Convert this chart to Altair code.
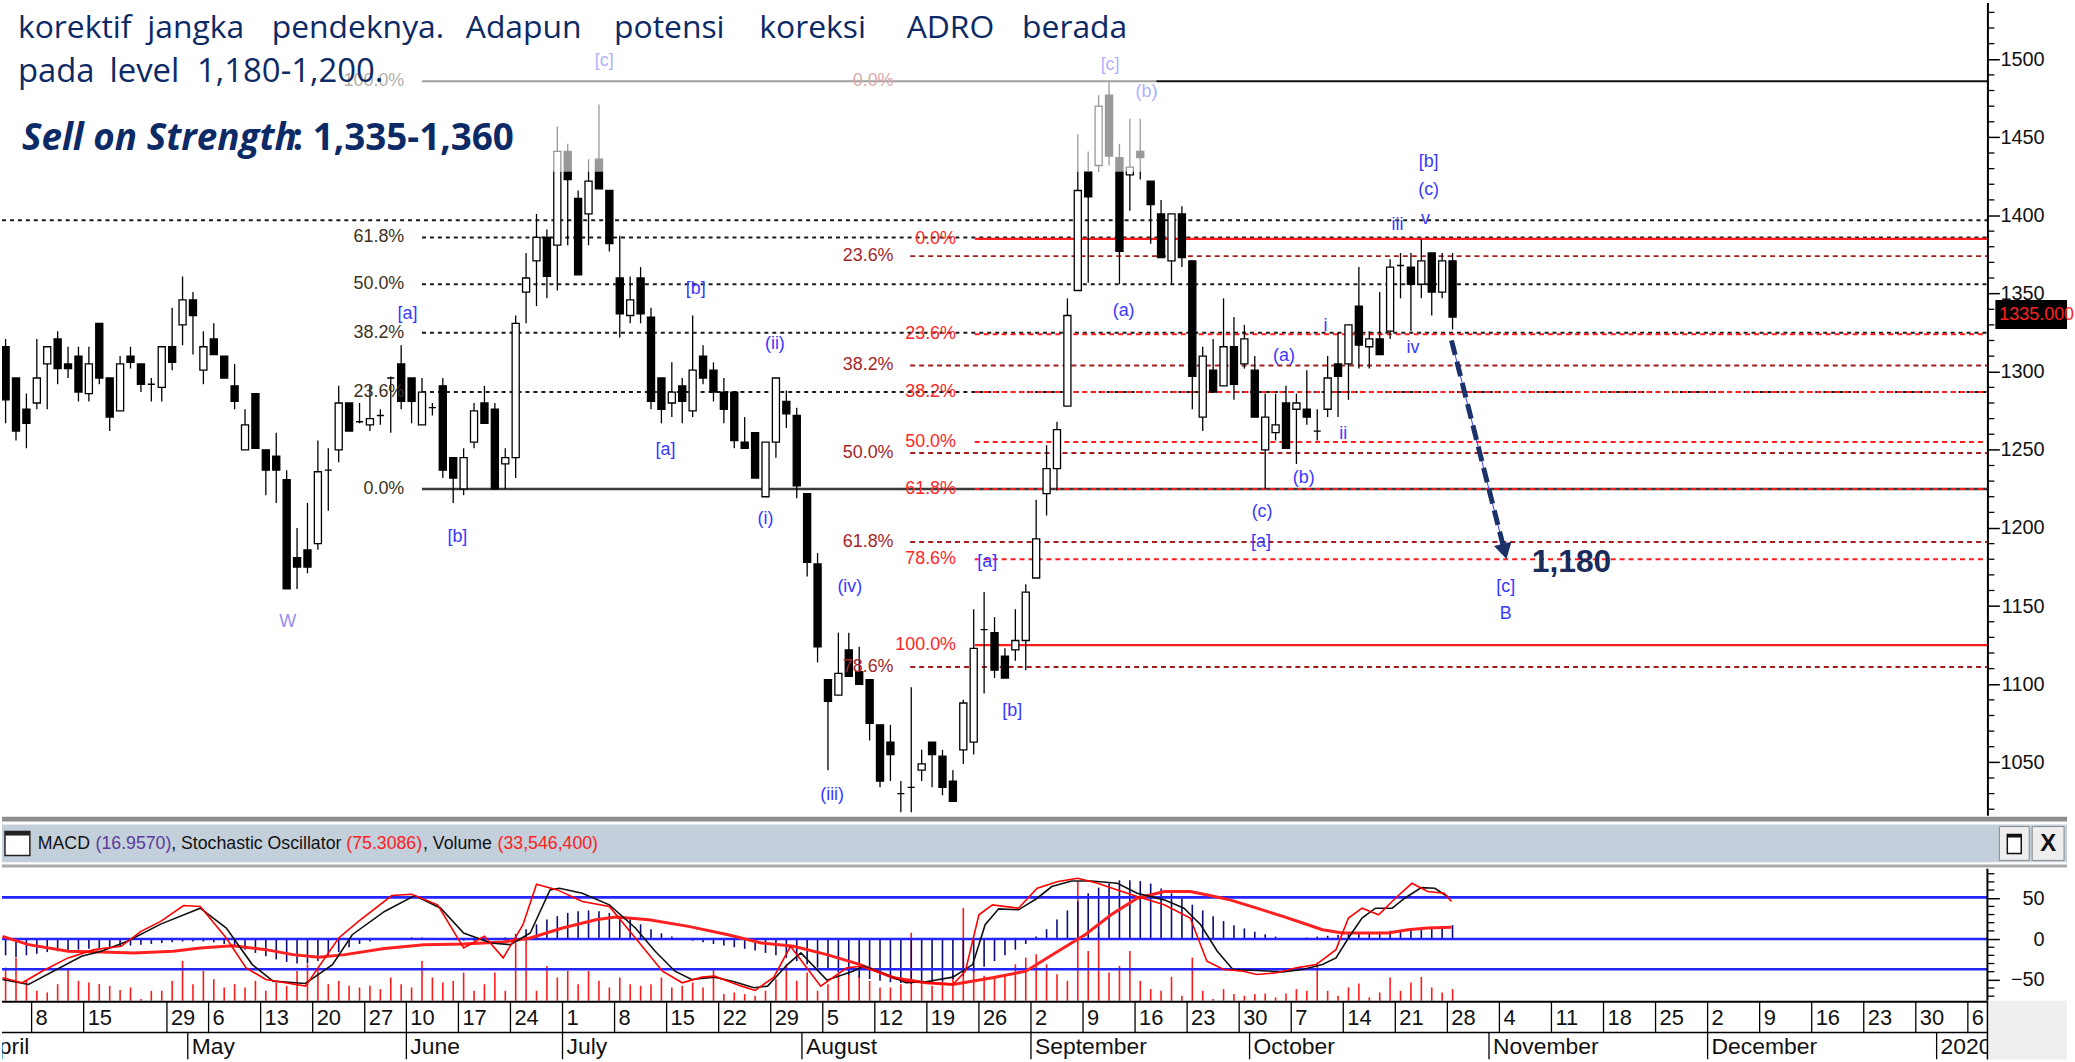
import altair as alt
import pandas as pd

ARIAL = "Liberation Sans, Arial, sans-serif"
SEGOE = "Open Sans, Noto Sans, sans-serif"
NAVY = "#0c2a66"
WAVE = "#3838ff"
WAVE_LIGHT = "#958cf2"
RED = "#ff2626"
DRED = "#a3262b"
FIBLBL = "#3d3222"

# ---------------- candles: trading-day index -3 .. 136 ----------------
FIRST_DAY = -3
opens = [1316,1296,1276,1280,1305,1321,1305,1310,1286,1331,1296,1275,1310,1305,1292,1290,1316,1330,1346,1301,1321,1310,1291,1250,1286,1250,1246,1231,1181,1186,1190,1237,1250,1280,1268,1266,
         1272,1296,1305,1296,1266,1277,1291,1245,1225,1255,1280,1276,1241,1245,1351,1371,1386,1381,1441,1411,1401,1436,1416,1360,1336,1360,1335,1296,1280,1291,1275,1310,1301,1287,1287,1255,1261,1220,1255,
         1281,1272,1222,1177,1103,1093,1122,1108,1103,1074,1063,1030,1034,1045,1063,1054,1038,1058,1063,1135,1133,1118,1122,1128,1168,1222,1238,1278,1352,1428,1432,1477,
         1437,1426,1441,1422,1401,1371,1401,1371,1271,1301,1291,1316,1305,1301,1250,1261,1280,1276,1276,1262,1276,1305,1305,1342,1316,1321,1326,1368,1367,1356,1376,1351,1371]
highs = [1321,1296,1286,1321,1316,1326,1316,1316,1316,1331,1296,1310,1316,1305,1296,1316,1341,1361,1351,1326,1331,1310,1305,1276,1286,1250,1261,1237,1200,1216,1256,1251,1291,1280,1280,1291,
         1276,1297,1317,1296,1296,1280,1296,1245,1251,1280,1291,1280,1251,1336,1376,1401,1391,1457,1446,1416,1436,1471,1416,1387,1361,1367,1341,1296,1306,1296,1336,1317,1306,1296,1287,1271,1261,1255,1296,
         1288,1277,1222,1184,1103,1133,1133,1124,1103,1074,1074,1038,1098,1058,1063,1058,1045,1090,1148,1159,1143,1123,1148,1164,1218,1253,1268,1347,1452,1441,1477,1486,
         1446,1462,1462,1422,1410,1401,1406,1371,1316,1321,1347,1335,1330,1310,1286,1286,1291,1286,1301,1276,1310,1325,1330,1367,1326,1351,1372,1376,1376,1385,1376,1376,1376]
lows = [1267,1256,1251,1276,1276,1292,1296,1281,1281,1292,1262,1275,1302,1287,1281,1281,1301,1317,1311,1292,1311,1296,1276,1250,1251,1221,1216,1161,1161,1171,1186,1211,1242,1262,1267,1262,
        1266,1261,1276,1267,1266,1272,1232,1216,1221,1251,1267,1225,1225,1232,1331,1342,1347,1352,1381,1362,1381,1417,1377,1322,1331,1331,1276,1267,1271,1267,1271,1292,1281,1267,1251,1251,1232,1220,1245,
        1264,1219,1169,1114,1045,1093,1105,1100,1064,1034,1038,1018,1018,1038,1034,1029,1025,1049,1055,1094,1104,1104,1115,1109,1168,1208,1224,1278,1352,1357,1428,1432,
        1356,1403,1423,1382,1373,1356,1367,1276,1262,1287,1291,1282,1302,1271,1225,1256,1251,1241,1266,1256,1271,1271,1282,1302,1302,1311,1321,1347,1326,1347,1336,1347,1327]
closes = [1282,1262,1267,1296,1316,1302,1302,1287,1305,1296,1271,1305,1306,1292,1292,1316,1306,1346,1336,1316,1311,1296,1281,1266,1251,1237,1237,1161,1175,1175,1236,1237,1280,1262,1268,1270,
          1272,1296,1281,1281,1287,1277,1237,1232,1245,1275,1267,1225,1245,1331,1360,1386,1361,1441,1423,1362,1422,1417,1382,1337,1346,1337,1281,1276,1287,1281,1301,1296,1287,1276,1256,1251,1232,1255,1296,
          1273,1227,1178,1124,1089,1107,1105,1100,1075,1038,1055,1030,1034,1049,1055,1034,1025,1088,1123,1135,1109,1104,1128,1159,1193,1238,1263,1336,1416,1412,1470,1438,
          1377,1431,1437,1407,1373,1401,1373,1297,1310,1287,1316,1292,1321,1271,1271,1266,1251,1280,1271,1262,1296,1297,1330,1317,1321,1311,1367,1368,1356,1371,1351,1371,1335]

# ---------------- lower panel series ----------------
macd_hist = [-20,-22,-20,-18,
             -16,-15,-14,-13,-12, -11,-10,-9,-8,-7, -6,-5,-4,-3,-3, -3,-4,-6,-9,-13,
             -17,-21,-25,-28,-30, -30,-27,-22,-16,-10, -6,-3,-1,0,1, 2,2,1,0,-1,
             -2,-2,-1,0,2, 6,12,18,24,28, 32,34,35,34,32, 28,24,18,12,7,
             3,0,-2,-4,-6, -8,-10,-12,-14,-17, -20,-23,-27,-31,-35, -38,-41,-44,-47,-49,
             -51,-53,-54,-55,-55, -54,-52,-49,-45,-40, -34,-27,-20,-13,-6, 3,12,24,35,46,
             56,63,68,72,72, 71,68,62,56,50, 42,35,28,22,17, 13,9,6,3,1,
             1,2,3,4,5, 6,7,8,9,10, 11,12,14,15,16,17]
volume_m = [100,130,60,30,
            25,50,95,60,55, 50,45,32,40,5, 30,30,60,120,50, 90,65,40,50,40,
            60,30,55,45,90, 110,95,50,60,45, 40,45,35,70,50, 40,120,70,55,60,
            85,30,50,85,30, 175,185,30,105,70, 90,50,90,60,40, 70,50,45,50,70,
            40,45,55,40,95, 20,25,20,15,30, 65,110,60,85,30, 50,80,80,75,60,
            40,40,50,205,50, 45,60,80,280,90, 75,70,80,110,130, 140,110,80,60,360,
            150,205,85,105,150, 60,35,30,72,15, 130,30,5,35,20, 15,20,22,10,22,
            35,30,115,30,15, 40,52,10,25,70, 30,55,72,40,25,35]
stoch_slow = [(-3.3,-49.6),(-0.8,-55.7),(4.3,-21.1),(6.2,-15),(8.7,-2.8),(11.9,18.3),(15.7,37.8),(18.2,13.5),
              (20.7,-31.3),(22.7,-51.6),(25.8,-54.4),(28.4,-31.3),(30.3,5.3),(33.4,33.8),(36.3,53.3),(38.8,37.8),
              (41.0,7.4),(43.6,-4.8),(45.5,-6.9),(47.4,7.4),(49.3,60.2),(50.2,62.2),(52.4,56.1),(55.0,41.9),
              (57.5,13.5),(59.4,-15),(61.3,-39.4),(62.9,-49.6),(65.1,-46.7),(67.0,-52.4),(68.9,-59.7),(70.2,-57.7),
              (72.1,-31.3),(73.4,-17),(75.9,-50.4),(78.4,-39.4),(79.4,-33.3),(81.6,-43.5),(83.5,-53.6),(85.4,-52.4),
              (88.0,-46.7),(89.9,-31.3),(91.1,17.5),(92.4,37),(94.3,35.8),(96.1,50),(97.5,64.3),(99.4,71.2),
              (101.3,71.2),(103.8,68.3),(105.7,56.1),(108.3,48),(110.2,37.8),(111.8,17.5),(113.4,-15),(114.9,-37.4),
              (117.2,-38.6),(119.7,-40.2),(121.6,-37.4),(123.5,-31.3),(124.8,-23.1),(126.0,1.3),(127.3,25.7),
              (128.6,37.8),(130.2,37.8),(131.4,50),(133.0,63),(134.3,62.2),(135.5,52.1)]
stoch_fast = [(-3.3,-47.5),(-1.4,-53.6),(0.5,-39.4),(3,-23.1),(5.5,-13),(8.1,-8.9),(10,9.4),(11.9,21.6),(14.1,41.1),
              (15.7,39.9),(18.2,1.3),(20.1,-35.3),(22,-49.6),(25.8,-57.7),(29,1.3),(30.9,21.6),(34.1,53.3),(36,54.9),
              (38.5,41.9),(41,-10.9),(43,3.3),(44.8,-23.1),(46.7,17.5),(48,67.1),(50,60.2),(52.4,46),(55,39.9),
              (57.5,1.3),(60.1,-39.4),(62,-53.6),(63.9,-46.7),(65.1,-45.5),(67.7,-57.7),(69,-63),(70.8,-46.7),
              (72.4,-8.9),(75.3,-57.7),(77.8,-35.3),(79.1,-33.3),(81.6,-43.5),(83.5,-51.6),(88,-55.7),(89.2,-39.4),
              (90.5,29.7),(91.8,41.9),(94.3,37.8),(96.1,62.2),(98.1,70.4),(100,74.4),(101.9,68.3),(103.8,60.2),
              (105.7,52.1),(108.3,41.9),(110.8,25.7),(112.4,-27.2),(114,-37.4),(115.9,-39.4),(117.2,-43.5),
              (119.1,-41.4),(121,-35.3),(122.9,-31.3),(124.8,-13),(126,25.7),(127.3,37.8),(128.9,29.7),(130.5,50),
              (132.1,68.3),(133.6,58.2),(135.2,56.1),(135.9,46)]
signal_line = [(-3.3,3.3),(-0.8,-6.9),(3,-15),(6.2,-15.8),(9.3,-17),(13.1,-15),(15.7,-10.9),(18.8,-8.1),(22,-13),
               (24.6,-19.1),(27.1,-22.3),(29.6,-19.1),(33.4,-11.7),(37.2,-6.9),(41,-6.1),(44.8,-3.6),(47.4,1.3),
               (50.5,13.5),(53.7,23.6),(55.6,26.9),(58.8,23.6),(62.6,15.5),(66.4,5.3),(69.6,-4.8),(72.7,-8.9),
               (75.9,-19.1),(79.1,-31.3),(82.3,-47.5),(85.4,-53.6),(88,-55.7),(91.8,-47.5),(95,-39.4),(98.1,-15),
               (100.7,5.3),(103.2,29.7),(105.7,50),(108.3,58.2),(110.8,58.2),(112.7,53.3),(114.6,48),(117.2,37.8),
               (119.7,27.7),(121.6,19.6),(123.5,11.4),(125.4,7.4),(127.3,7.4),(129.8,7.4),(131.7,11.4),(133.6,13.5),
               (135.9,14.3)]
ind_levels = [51, 0, -37]

# ---------------- fibonacci levels / annotations ----------------
fib_black_dotted = [1397, 1386, 1356, 1325, 1287]
fib_black_dotted_from = [-3.346, 37, 37, 37, 37]
fib_black_solid = [1225]
fib_top = 1486
fib_red_solid = [1385, 1125]
fib_red_dashed = [1324, 1287, 1255, 1225, 1180]
fib_dred_dashed = [1374, 1304, 1248, 1191, 1111]

lbl_black_text = ["100.0%", "61.8%", "50.0%", "38.2%", "23.6%", "0.0%"]
lbl_black_lvl = [1486, 1386, 1356, 1325, 1287, 1225]
lbl_dred_text = ["0.0%", "23.6%", "38.2%", "50.0%", "61.8%", "78.6%"]
lbl_dred_lvl = [1486, 1374, 1304, 1248, 1191, 1111]
lbl_red_text = ["0.0%", "23.6%", "38.2%", "50.0%", "61.8%", "78.6%", "100.0%"]
lbl_red_lvl = [1385, 1324, 1287, 1255, 1225, 1180, 1125]

wave_text = ["W", "[a]", "[b]", "[c]", "[b]", "[a]", "(ii)", "(i)", "(iv)", "(iii)", "[a]", "[b]",
             "[c]", "(b)", "(a)", "(a)", "i", "ii", "(b)", "(c)", "[a]", "iii", "v", "(c)", "[b]", "iv", "[c]", "B"]
wave_day = [24.1, 35.6, 40.4, 54.5, 63.3, 60.4, 70.9, 70.0, 78.1, 76.4, 91.3, 93.7,
            103.1, 106.6, 104.4, 119.8, 123.8, 125.5, 121.7, 117.7, 117.6, 130.7, 133.4, 133.7, 133.7, 132.2, 141.1, 141.1]
wave_price = [1140, 1337, 1194, 1499, 1353, 1250, 1318, 1206, 1162, 1029, 1178, 1083,
              1496, 1479, 1339, 1310, 1329, 1260, 1232, 1210, 1191, 1394, 1398, 1416, 1434, 1315, 1162, 1145]
wave_light = [True] + [False] * 27

arrow_day = [135.9, 141.0]
arrow_price = [1320, 1185]
target_text = "1,180"
target_day = 143.6
target_price = 1178
last_close_text = "1335.000"

# ---------------- calendar ----------------
week_text = ["8","15","29","6","13","20","27","10","17","24","1","8","15","22","29","5","12","19","26",
             "2","9","16","23","30","7","14","21","28","4","11","18","25","2","9","16","23","30","6"]
week_day = [0,5,13,17,22,27,32,36,41,46,51,56,61,66,71,76,81,86,91,96,101,106,111,116,121,126,131,136,
            141,146,151,156,161,166,171,176,181,186]
month_text = ["April","May","June","July","August","September","October","November","December","2020"]
month_day = [-5,15,36,51,74,96,117,140,161,183]

# ---------------- layout ----------------
W = 1995
H_PRICE = 817
H_IND = 186
H_DATE = 59
XMIN, XMAX = -3.346, 187.38
xs = alt.Scale(domain=[XMIN, XMAX], nice=False, zero=False)
ps = alt.Scale(domain=[1015.9, 1536.3], nice=False, zero=False)

price_axis = alt.Axis(orient="right", values=list(range(1050, 1501, 50)), format="d", tickSize=12,
                      tickWidth=1.5, tickColor="black", domainColor="black", domainWidth=2, grid=False,
                      title=None, labelFont=ARIAL, labelFontSize=20, labelColor="#111111", labelAlign="right",
                      labelPadding=45, labelOverlap=False, labelFlush=False)


def XQ(f):
    return alt.X(f, type="quantitative", scale=xs, axis=None)


def YP(f):
    return alt.Y(f, type="quantitative", scale=ps, axis=price_axis)


def one():
    return pd.DataFrame({"k": [0]})


def ptext(s, x, y, size, color, font=SEGOE, weight="normal", style="normal", align="left", baseline="alphabetic"):
    return alt.Chart(pd.DataFrame({"t": [s]})).mark_text(
        align=align, baseline=baseline, fontSize=size, font=font, fontWeight=weight,
        fontStyle=style, color=color).encode(text="t:N", x=alt.value(x), y=alt.value(y))


def prect(x, x2, y, y2, fill, stroke=None, sw=0, opacity=1):
    kw = dict(fill=fill, strokeWidth=sw, opacity=opacity)
    if stroke:
        kw["stroke"] = stroke
    return alt.Chart(one()).mark_rect(**kw).encode(
        x=alt.value(x), x2=alt.value(x2), y=alt.value(y), y2=alt.value(y2))


candles = pd.DataFrame({"i": list(range(FIRST_DAY, FIRST_DAY + len(opens))),
                        "o": opens, "h": highs, "l": lows, "c": closes})

wicks = alt.Chart(candles).mark_rule(color="black", strokeWidth=1.3, clip=True).encode(
    x=XQ("i"), y=YP("l"), y2="h:Q")
bodies = alt.Chart(candles).transform_calculate(
    x1="datum.i - 0.34", x2="datum.i + 0.34",
    lo="min(datum.o, datum.c)", hi="max(datum.o, datum.c)"
).mark_rect(stroke="black", strokeWidth=1.3, clip=True).encode(
    x=XQ("x1"), x2="x2:Q", y=YP("lo"), y2="hi:Q",
    fill=alt.condition("datum.c >= datum.o", alt.value("white"), alt.value("black")))


def hlines(levels, start, end, color, width, dash=None):
    df = pd.DataFrame({"v": levels, "a": start, "b": [end] * len(levels)})
    kw = dict(color=color, strokeWidth=width, clip=True)
    if dash:
        kw["strokeDash"] = dash
    return alt.Chart(df).mark_rule(**kw).encode(x=XQ("a"), x2="b:Q", y=YP("v"))


lines = [
    hlines(fib_black_dotted, fib_black_dotted_from, XMAX, "#1a1a1a", 2, [4, 4]),
    hlines(fib_black_solid, [37], XMAX, "#3a3a3a", 2.5),
    hlines([fib_top], [37], XMAX, "#111111", 2),
    hlines(fib_dred_dashed, [83.9] * 5, XMAX, "#a51c1c", 2, [5, 4]),
    hlines(fib_red_dashed, [90.1] * 5, XMAX, "#ff1c1c", 2, [5, 4]),
    hlines(fib_red_solid, [90.1] * 2, XMAX, "#ff1c1c", 2.2),
]


def fib_labels(texts, levels, day, color):
    df = pd.DataFrame({"t": texts, "v": levels, "i": [day] * len(texts)})
    return alt.Chart(df).mark_text(align="right", baseline="middle", font=ARIAL, fontSize=18, color=color).encode(
        x=XQ("i"), y=YP("v"), text="t:N")


labels = [
    fib_labels(lbl_black_text, lbl_black_lvl, 35.3, FIBLBL),
    fib_labels(lbl_dred_text, lbl_dred_lvl, 82.3, DRED),
    fib_labels(lbl_red_text, lbl_red_lvl, 88.3, RED),
]

waves_df = pd.DataFrame({"t": wave_text, "i": wave_day, "v": wave_price,
                         "col": [WAVE_LIGHT if w else WAVE for w in wave_light]})
waves = alt.Chart(waves_df).mark_text(align="center", baseline="middle", font=ARIAL, fontSize=18).encode(
    x=XQ("i"), y=YP("v"), text="t:N", color=alt.Color("col:N", scale=None))

arrow_df = pd.DataFrame({"i": arrow_day, "v": arrow_price})
arrow_thin = alt.Chart(arrow_df).mark_line(color="#3b3bff", strokeWidth=1).encode(x=XQ("i"), y=YP("v"))
arrow = alt.Chart(arrow_df).mark_line(color="#1b3268", strokeWidth=5, strokeDash=[15, 7]).encode(
    x=XQ("i"), y=YP("v"))
arrow_head = alt.Chart(arrow_df.tail(1)).mark_point(shape="triangle-down", filled=True, size=330, angle=346,
                                                    color="#1b3268", opacity=1).encode(x=XQ("i"), y=YP("v"))
target = alt.Chart(pd.DataFrame({"t": [target_text], "i": [target_day], "v": [target_price]})).mark_text(
    align="left", baseline="middle", font=ARIAL, fontSize=32, fontWeight="bold", color="#1b2b5c").encode(
    x=XQ("i"), y=YP("v"), text="t:N")

minor_price = pd.DataFrame({"v": [v for v in range(1020, 1536, 10) if v % 50 != 0]})
minor_ticks = alt.Chart(minor_price).mark_rule(color="black", strokeWidth=1.3).encode(
    x=alt.value(W), x2=alt.value(W + 7), y=YP("v"))

# semi-transparent text box of the slide, covering the top-left part of the chart
text_box = prect(0, 1160, 0, 170, "white", opacity=0.6)

head_words = [("korektif", 16, 36, 32), ("jangka", 146, 36, 32), ("pendeknya.", 271, 36, 32),
              ("Adapun", 466, 36, 32), ("potensi", 615, 36, 32), ("koreksi", 761, 36, 32),
              ("ADRO", 909, 36, 32), ("berada", 1025, 36, 32),
              ("pada", 16, 80, 33), ("level", 108, 80, 33), ("1,180-1,200.", 196, 80, 33)]
headline = [ptext(w, x, y, s, NAVY) for w, x, y, s in head_words]
headline.append(ptext("Sell on Strength", 20, 148, 37, NAVY, weight="bold", style="italic"))
headline.append(ptext(": 1,335-1,360", 292, 148, 37, NAVY, weight="bold"))

tag = [prect(2003, 2075, 299, 328, "black"),
       ptext(last_close_text, 2007, 314, 18, "#ff2020", font=ARIAL, align="left", baseline="middle")]

price = alt.layer(*lines, wicks, bodies, *labels, waves, arrow_thin, arrow, arrow_head, target,
                  minor_ticks, text_box, *headline, *tag).properties(width=W, height=H_PRICE)

# ---------------- indicator panel ----------------
iscale = alt.Scale(domain=[-75.6, 151.2], nice=False, zero=False)
vscale = alt.Scale(domain=[0, 558], nice=False, zero=False)
ind_axis = alt.Axis(orient="right", values=[-50, 0, 50], tickSize=12, tickWidth=1.5, tickColor="black",
                    domain=False, grid=False, title=None, labelFont=ARIAL, labelFontSize=20,
                    labelColor="#111111", labelAlign="right", labelPadding=45, labelOverlap=False)

bars_df = pd.DataFrame({"i": list(range(FIRST_DAY, FIRST_DAY + len(macd_hist))), "m": macd_hist, "vol": volume_m})
vol_layer = alt.Chart(bars_df).mark_rule(color="#ff1a1a", strokeWidth=1.6).encode(
    x=XQ("i"), y=alt.Y("vol:Q", scale=vscale, axis=None), y2=alt.datum(0))
hist_layer = alt.Chart(bars_df).mark_rule(color="#0a0a78", strokeWidth=1.6).encode(
    x=XQ("i"), y=alt.Y("m:Q", scale=iscale, axis=None), y2=alt.datum(0))
lvl_layer = alt.Chart(pd.DataFrame({"v": ind_levels})).mark_rule(color="#2424ff", strokeWidth=2.6).encode(
    x=alt.value(0), x2=alt.value(W), y=alt.Y("v:Q", scale=iscale, axis=ind_axis))


def series(pairs, color, width):
    df = pd.DataFrame(pairs, columns=["i", "v"])
    return alt.Chart(df).mark_line(color=color, strokeWidth=width, clip=True).encode(
        x=XQ("i"), y=alt.Y("v:Q", scale=iscale, axis=None))


sig_layer = series(signal_line, "#ff2020", 3)
k_layer = series(stoch_slow, "#111111", 1.6)
d_layer = series(stoch_fast, "#ff0000", 1.6)

minor_ind = pd.DataFrame({"v": [v for v in range(-70, 81, 10) if v % 50 != 0]})
ind_minor = alt.Chart(minor_ind).mark_rule(color="black", strokeWidth=1.3).encode(
    x=alt.value(W), x2=alt.value(W + 7), y=alt.Y("v:Q", scale=iscale, axis=None))
ind_axisline = alt.Chart(one()).mark_rule(color="black", strokeWidth=2).encode(
    x=alt.value(W), y=alt.value(53), y2=alt.value(H_IND))

HS = 17.8
header = [
    prect(0, 2075, 0, 9, "#ffffff"),
    prect(0, 2075, 1, 6, "#8e8e8e"),
    prect(0, 2075, 9, 47, "#c3cfdb"),
    prect(0, 2075, 47, 53, "#ffffff"),
    prect(0, 2075, 49, 52, "#a9a9a9"),
    prect(3, 28, 16, 40, "#ffffff", "#222222", 1.5),
    prect(3, 28, 16, 20, "#222222"),
    ptext("MACD", 36, 29, HS, "#111111", font=ARIAL, baseline="middle"),
    ptext("(16.9570)", 94, 29, HS, "#5a3a9a", font=ARIAL, baseline="middle"),
    ptext(", Stochastic Oscillator", 170, 29, HS, "#111111", font=ARIAL, baseline="middle"),
    ptext("(75.3086)", 346, 29, HS, "#ff2020", font=ARIAL, baseline="middle"),
    ptext(", Volume", 423, 29, HS, "#111111", font=ARIAL, baseline="middle"),
    ptext("(33,546,400)", 498, 29, HS, "#ff2020", font=ARIAL, baseline="middle"),
    prect(2007, 2037, 11, 45, "#eeeeee", "#8a8a8a", 1),
    prect(2015, 2029, 19, 38, "#ffffff", "#111111", 1.5),
    prect(2015, 2029, 19, 22, "#111111"),
    prect(2040, 2072, 11, 45, "#eeeeee", "#8a8a8a", 1),
    ptext("X", 2056, 29, 24, "#111111", font=ARIAL, weight="bold", align="center", baseline="middle"),
]

ind = alt.layer(vol_layer, hist_layer, lvl_layer, sig_layer, k_layer, d_layer, ind_minor, ind_axisline,
                *header).resolve_scale(y="independent").properties(width=W, height=H_IND)

# ---------------- calendar panel ----------------
weeks_df = pd.DataFrame({"t": week_text, "i": week_day})
months_df = pd.DataFrame({"t": month_text, "i": month_day})
cal_bg = prect(W, 2075, 0, H_DATE, "#efefef")
row_lines = [
    alt.Chart(one()).mark_rule(color="black", strokeWidth=2).encode(x=alt.value(0), x2=alt.value(W), y=alt.value(1)),
    alt.Chart(one()).mark_rule(color="black", strokeWidth=1.5).encode(x=alt.value(0), x2=alt.value(W), y=alt.value(32)),
    alt.Chart(one()).mark_rule(color="black", strokeWidth=1.5).encode(x=alt.value(W), y=alt.value(0), y2=alt.value(H_DATE)),
]
week_sep = alt.Chart(weeks_df).transform_calculate(b="datum.i - 0.5").mark_rule(
    color="black", strokeWidth=1.3, clip=True).encode(x=XQ("b"), y=alt.value(1), y2=alt.value(32))
week_lbl = alt.Chart(weeks_df).transform_calculate(b="datum.i - 0.5").mark_text(
    align="left", baseline="middle", dx=4, font=ARIAL, fontSize=22, color="#111111", clip=True).encode(
    x=XQ("b"), y=alt.value(17), text="t:N")
month_sep = alt.Chart(months_df).transform_calculate(b="datum.i - 0.5").mark_rule(
    color="black", strokeWidth=1.3, clip=True).encode(x=XQ("b"), y=alt.value(32), y2=alt.value(H_DATE))
month_lbl = alt.Chart(months_df).transform_calculate(b="datum.i - 0.5").mark_text(
    align="left", baseline="middle", dx=4, font=ARIAL, fontSize=23, color="#111111", clip=True).encode(
    x=XQ("b"), y=alt.value(47), text="t:N")

dates = alt.layer(cal_bg, *row_lines, week_sep, week_lbl, month_sep, month_lbl).properties(
    width=W, height=H_DATE)

chart = alt.vconcat(price, ind, dates, spacing=0, bounds="flush").properties(
    padding=0, background="white").configure_view(stroke=None)

chart.save("out.html", embed_options={"renderer": "svg", "actions": False})
